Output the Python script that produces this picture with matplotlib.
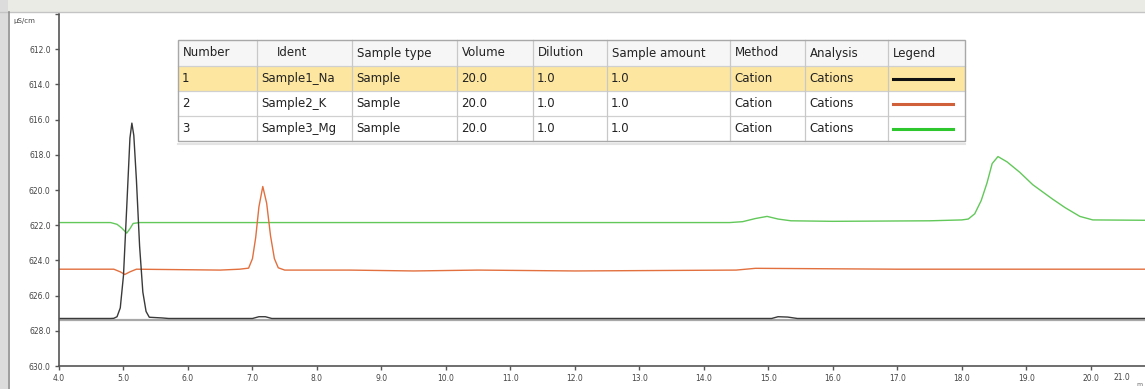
import matplotlib.pyplot as plt
from matplotlib.patches import Rectangle
from matplotlib.lines import Line2D

# chromatogram traces (time in min, signal in uS/cm)
na_t = [4.0, 4.8, 4.85, 4.9, 4.95, 5.0, 5.05, 5.1, 5.13, 5.16, 5.2, 5.25, 5.3, 5.35,
        5.4, 5.5, 5.6, 5.7, 7.0, 7.1, 7.2, 7.3, 15.05, 15.15, 15.3, 15.45, 20.84]
na_v = [627.3, 627.3, 627.29, 627.2, 626.7, 624.85, 621.0, 617.05, 616.2, 616.9, 619.4,
        623.2, 625.8, 626.9, 627.23, 627.25, 627.27, 627.3, 627.3, 627.2, 627.2, 627.3,
        627.3, 627.2, 627.22, 627.3, 627.3]

k_t = [4.0, 4.85, 4.95, 5.02, 5.1, 5.2, 6.5, 6.8, 6.94, 7.0, 7.05, 7.1, 7.16, 7.22,
       7.28, 7.34, 7.4, 7.5, 8.5, 9.5, 10.5, 12.0, 14.5, 14.8, 17.0, 20.84]
k_v = [624.5, 624.5, 624.65, 624.8, 624.65, 624.5, 624.55, 624.5, 624.44, 623.9, 622.7,
       620.96, 619.8, 620.75, 622.6, 623.9, 624.42, 624.55, 624.55, 624.6, 624.55, 624.6,
       624.55, 624.45, 624.5, 624.5]

mg_t = [4.0, 4.8, 4.9, 4.97, 5.05, 5.1, 5.15, 5.25, 14.4, 14.6, 14.8, 14.98, 15.15,
        15.35, 16.0, 17.5, 18.0, 18.1, 18.2, 18.3, 18.39, 18.47, 18.56, 18.7, 18.9,
        19.1, 19.4, 19.6, 19.83, 20.03, 20.84]
mg_v = [621.85, 621.85, 621.95, 622.15, 622.45, 622.2, 621.9, 621.85, 621.85, 621.8,
        621.62, 621.5, 621.65, 621.75, 621.78, 621.75, 621.7, 621.65, 621.35, 620.6,
        619.6, 618.5, 618.1, 618.4, 619.0, 619.7, 620.5, 621.0, 621.5, 621.7, 621.72]

baseline_na = 627.4

x_ticks = [4, 5, 6, 7, 8, 9, 10, 11, 12, 13, 14, 15, 16, 17, 18, 19, 20]
y_ticks = [610, 612, 614, 616, 618, 620, 622, 624, 626, 628, 630]

# sample table
headers = ['Number', 'Ident', 'Sample type', 'Volume', 'Dilution',
           'Sample amount', 'Method', 'Analysis', 'Legend']
rows = [
    ['1', 'Sample1_Na', 'Sample', '20.0', '1.0', '1.0', 'Cation', 'Cations'],
    ['2', 'Sample2_K', 'Sample', '20.0', '1.0', '1.0', 'Cation', 'Cations'],
    ['3', 'Sample3_Mg', 'Sample', '20.0', '1.0', '1.0', 'Cation', 'Cations'],
]
trace_colors = ['#3a3a3a', '#e2703f', '#62c85a']
legend_colors = ['#111111', '#d0603a', '#2ec82e']

W, H = 1145, 389
fig = plt.figure(figsize=(W / 100, H / 100), dpi=100)


def fx(x):
    return x / W


def fy(y):
    return 1 - y / H


# window frame
fig.patches.append(Rectangle((0, fy(12)), 1, 12 / H, transform=fig.transFigure,
                             facecolor='#ebebe6', edgecolor='none', zorder=0))
fig.add_artist(Line2D([0, 1], [fy(12), fy(12)], transform=fig.transFigure,
                      color='#c4c4c4', lw=1))
fig.patches.append(Rectangle((0, 0), 8 / W, 1, transform=fig.transFigure,
                             facecolor='#dcdcdc', edgecolor='none', zorder=0))
fig.add_artist(Line2D([fx(8.5), fx(8.5)], [0, fy(12)], transform=fig.transFigure,
                      color='#8c8c8c', lw=1.2))

ax = fig.add_axes([fx(59), fy(366), (W - 59) / W, (366 - 14) / H])
ax.plot([4.0, 20.84], [baseline_na, baseline_na], color='#a8a8a8', lw=1.6)
ax.plot(mg_t, mg_v, color=trace_colors[2], lw=1.0)
ax.plot(k_t, k_v, color=trace_colors[1], lw=1.0)
ax.plot(na_t, na_v, color=trace_colors[0], lw=1.0)

ax.set_xlim(4.0, 20.84)
ax.set_ylim(630, 610)
ax.set_xticks(x_ticks)
ax.set_xticklabels(['%.1f' % v for v in x_ticks])
ax.set_yticks(y_ticks)
ax.set_yticklabels(['' if v == 610 else '%.1f' % v for v in y_ticks])
for s in ['top', 'right']:
    ax.spines[s].set_visible(False)
for s in ['left', 'bottom']:
    ax.spines[s].set_color('#555555')
    ax.spines[s].set_linewidth(1.2)
ax.tick_params(axis='both', length=3, width=1, color='#555555',
               labelsize=5.5, labelcolor='#444444', pad=3)

fig.text(fx(1122), fy(378), '21.0', fontsize=5.5, color='#444444',
         ha='center', va='center')
fig.text(fx(1139), fy(384), 'm', fontsize=4.5, color='#666666',
         ha='center', va='center')
fig.text(fx(13), fy(21), 'µS/cm', fontsize=5, color='#444444',
         ha='left', va='center')

# table
col_x = [178, 257, 352, 457, 533, 607, 730, 805, 888, 965]
row_y = [40, 66, 91, 116, 141]
fs = 8.5
# backgrounds
fig.patches.append(Rectangle((fx(col_x[0]), fy(row_y[1])), (col_x[-1] - col_x[0]) / W,
                             (row_y[1] - row_y[0]) / H, transform=fig.transFigure,
                             facecolor='#f6f6f6', edgecolor='none', zorder=2))
fig.patches.append(Rectangle((fx(col_x[0]), fy(row_y[2])), (col_x[-1] - col_x[0]) / W,
                             (row_y[2] - row_y[1]) / H, transform=fig.transFigure,
                             facecolor='#fce6a0', edgecolor='none', zorder=2))
fig.patches.append(Rectangle((fx(col_x[0]), fy(row_y[-1])), (col_x[-1] - col_x[0]) / W,
                             (row_y[-1] - row_y[2]) / H, transform=fig.transFigure,
                             facecolor='white', edgecolor='none', zorder=2))
# grid lines
for y in row_y[1:-1]:
    fig.add_artist(Line2D([fx(col_x[0]), fx(col_x[-1])], [fy(y), fy(y)],
                          transform=fig.transFigure, color='#d0d0d0', lw=0.9, zorder=3))
for x in col_x[1:-1]:
    fig.add_artist(Line2D([fx(x), fx(x)], [fy(row_y[0]), fy(row_y[-1])],
                          transform=fig.transFigure, color='#c8c8c8', lw=0.9, zorder=3))
fig.patches.append(Rectangle((fx(col_x[0]), fy(row_y[-1])), (col_x[-1] - col_x[0]) / W,
                             (row_y[-1] - row_y[0]) / H, transform=fig.transFigure,
                             facecolor='none', edgecolor='#a8a8a8', lw=1.0, zorder=4))
fig.add_artist(Line2D([fx(col_x[0]), fx(col_x[-1])], [fy(row_y[-1] + 3), fy(row_y[-1] + 3)],
                      transform=fig.transFigure, color='#e4e4e4', lw=1.5, zorder=3))

for i, h in enumerate(headers):
    pad = 20 if h == 'Ident' else 5
    fig.text(fx(col_x[i] + pad), fy((row_y[0] + row_y[1]) / 2), h, fontsize=fs,
             color='#222222', ha='left', va='center', zorder=5)
for r, row in enumerate(rows):
    yc = fy((row_y[r + 1] + row_y[r + 2]) / 2)
    for i, val in enumerate(row):
        fig.text(fx(col_x[i] + 4), yc, val, fontsize=fs, color='#222222',
                 ha='left', va='center', zorder=5)
    fig.add_artist(Line2D([fx(893), fx(953)], [yc, yc], transform=fig.transFigure,
                          color=legend_colors[r], lw=2.2, zorder=5))

fig.savefig('out.png', dpi=100)
